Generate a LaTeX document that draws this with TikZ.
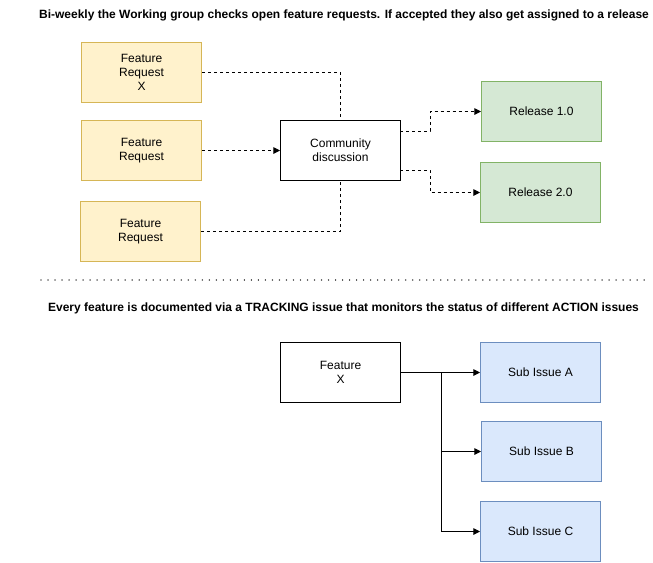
\documentclass[tikz,border=0pt]{standalone}
\usepackage{fontspec}
\setmainfont{Liberation Sans}
\usetikzlibrary{arrows.meta}
\definecolor{yfill}{HTML}{FFF2CC}\definecolor{ydraw}{HTML}{D6B656}
\definecolor{gfill}{HTML}{D5E8D4}\definecolor{gdraw}{HTML}{82B366}
\definecolor{bfill}{HTML}{DAE8FC}\definecolor{bdraw}{HTML}{6C8EBF}
\tikzset{
  box/.style={draw, line width=0.75pt, minimum width=90pt, minimum height=45pt, inner sep=0pt, align=center, font=\fontsize{9pt}{10.5pt}\selectfont, anchor=north west},
  yellowbox/.style={box, fill=yfill, draw=ydraw},
  greenbox/.style={box, fill=gfill, draw=gdraw},
  bluebox/.style={box, fill=bfill, draw=bdraw},
  plainbox/.style={box, fill=white, draw=black},
  dconn/.style={line width=0.75pt, dash pattern=on 2.25pt off 2.25pt},
  sconn/.style={line width=0.75pt},
  tip/.style={-{Triangle[length=5pt,width=5pt]}},
  title/.style={font=\bfseries\fontsize{9pt}{10.5pt}\selectfont, inner sep=0pt}
}
\begin{document}
\begin{tikzpicture}[x=0.75pt,y=-0.75pt]
\useasboundingbox (0,0) rectangle (653,562);
\node[title] (t1) at (344,15) {Bi-weekly the Working group checks open feature requests. If accepted they also get assigned to a release};
\node[yellowbox] (fr1) at (81,42) {Feature\\Request\\X};
\node[yellowbox] (fr2) at (81,120) {Feature\\Request};
\node[yellowbox] (fr3) at (80,201) {Feature\\Request};
\node[plainbox] (cd) at (280,120) {Community\\discussion};
\node[greenbox] (r1) at (481,81) {Release 1.0};
\node[greenbox] (r2) at (480,162) {Release 2.0};
\draw[dconn] (fr1.east) -| (cd.north);
\draw[dconn, tip] (fr2.east) -- (cd.west);
\draw[dconn] (fr3.east) -| (cd.south);
\coordinate (c1) at (400,131);
\coordinate (c2) at (400,170);
\draw[dconn, tip] (c1) -- (430,131) |- (r1.west);
\draw[dconn, tip] (c2) -- (430,170) |- (r2.west);
\coordinate (l1) at (41,280);
\coordinate (l2) at (651,280);
\draw[line width=1.1pt, dash pattern=on 0.01pt off 5.25pt, line cap=round, black!70] (l1) -- (l2);
\node[title] (t2) at (343.5,308) {Every feature is documented via a TRACKING issue that monitors the status of different ACTION issues};
\node[plainbox] (fx) at (280,342) {Feature\\X};
\node[bluebox] (sa) at (480,342) {Sub Issue A};
\node[bluebox] (sb) at (481,421) {Sub Issue B};
\node[bluebox] (sc) at (480,501) {Sub Issue C};
\coordinate (br) at (441,372);
\draw[sconn, tip] (fx.east) -- (sa.west);
\draw[sconn, tip] (br) |- (sb.west);
\draw[sconn, tip] (br) |- (sc.west);
\end{tikzpicture}
\end{document}
